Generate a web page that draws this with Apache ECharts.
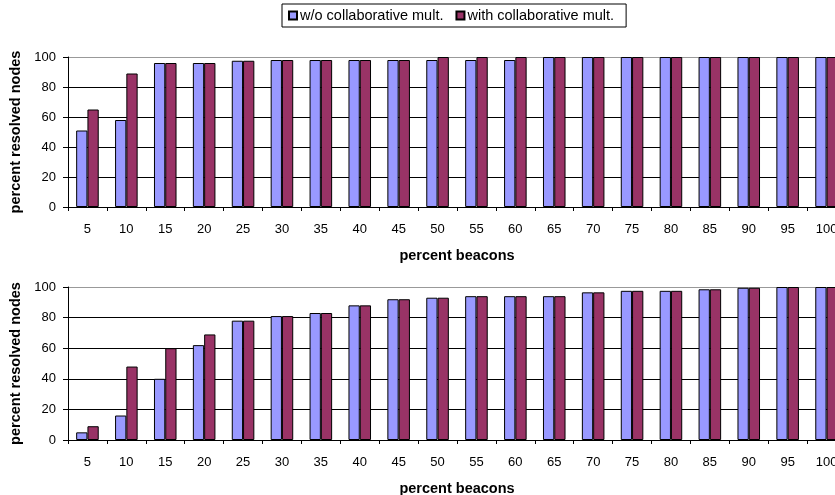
<!DOCTYPE html>
<html>
<head>
<meta charset="utf-8">
<script src="https://cdn.jsdelivr.net/npm/echarts@6/dist/echarts.min.js"></script>
<style>
  html, body { margin: 0; padding: 0; background: #fff; }
  #chart { width: 835px; height: 495px; }
</style>
</head>
<body>
<div id="chart"></div>
<script>
// x categories (percent beacons)
const beacons = ["5", "10", "15", "20", "25", "30", "35", "40", "45", "50",
                 "55", "60", "65", "70", "75", "80", "85", "90", "95", "100"];

// top chart
const topWithout = [51, 58, 96, 96, 97.5, 98, 98, 98, 98, 98, 98, 98, 100, 100, 100, 100, 100, 100, 100, 100];
const topWith    = [65, 89, 96, 96, 97.5, 98, 98, 98, 98, 100, 100, 100, 100, 100, 100, 100, 100, 100, 100, 100];

// bottom chart
const botWithout = [5, 16, 40, 62, 78, 81, 83, 88, 92, 93, 94, 94, 94, 96.5, 97.5, 97.5, 98.5, 99.5, 100, 100];
const botWith    = [9, 48, 60, 69, 78, 81, 83, 88, 92, 93, 94, 94, 94, 96.5, 97.5, 97.5, 98.5, 99.5, 100, 100];

const nameWithout = "w/o collaborative mult.";
const nameWith = "with collaborative mult.";

const font = "Liberation Sans, Arial, sans-serif";

const chart = echarts.init(document.getElementById("chart"));

function xAxisFor(gridIndex) {
  return {
    type: "category",
    gridIndex: gridIndex,
    data: beacons,
    name: "percent beacons",
    nameLocation: "middle",
    nameGap: 41,
    nameTextStyle: { fontFamily: font, fontSize: 14.5, fontWeight: "bold", color: "#000" },
    axisLine: { lineStyle: { color: "#000", width: 1 } },
    axisTick: { show: true, length: 4, lineStyle: { color: "#000" } },
    axisLabel: { fontFamily: font, fontSize: 13, color: "#000", margin: 16, interval: 0 },
    splitLine: { show: false }
  };
}

function yAxisFor(gridIndex) {
  return {
    type: "value",
    gridIndex: gridIndex,
    min: 0,
    max: 100,
    interval: 20,
    name: "percent resolved nodes",
    nameLocation: "middle",
    nameGap: 45,
    nameTextStyle: { fontFamily: font, fontSize: 14.5, fontWeight: "bold", color: "#000" },
    axisLine: { show: true, lineStyle: { color: "#000", width: 1 } },
    axisTick: { show: true, length: 5, lineStyle: { color: "#000" } },
    axisLabel: { fontFamily: font, fontSize: 13, color: "#000", margin: 12 },
    splitLine: {
      show: true,
      lineStyle: { color: ["#000", "#000", "#000", "#000", "#000", "#999"], width: 1 }
    }
  };
}

function barSeries(name, data, idx, color) {
  return {
    name: name,
    type: "bar",
    xAxisIndex: idx,
    yAxisIndex: idx,
    data: data,
    barGap: "0%",
    barCategoryGap: "42%",
    itemStyle: { color: color, borderColor: "#000", borderWidth: 1 },
    emphasis: { disabled: true }
  };
}

const options = {
  animation: false,
  backgroundColor: "#fff",
  legend: {
    data: [nameWithout, nameWith],
    left: 282,
    top: 4,
    orient: "horizontal",
    borderColor: "#000",
    borderWidth: 1,
    padding: [4, 12, 4, 6],
    itemWidth: 8,
    itemHeight: 8,
    itemGap: 12,
    icon: "rect",
    textStyle: { fontFamily: font, fontSize: 14.5, color: "#000", padding: [0, 0, 0, -2] }
  },
  grid: [
    { left: 68, width: 778, top: 57, height: 150, outerBoundsMode: "none", containLabel: false },
    { left: 68, width: 778, top: 287, height: 153, outerBoundsMode: "none", containLabel: false }
  ],
  xAxis: [xAxisFor(0), xAxisFor(1)],
  yAxis: [yAxisFor(0), yAxisFor(1)],
  series: [
    barSeries(nameWithout, topWithout, 0, "#9999ff"),
    barSeries(nameWith, topWith, 0, "#993366"),
    barSeries(nameWithout, botWithout, 1, "#9999ff"),
    barSeries(nameWith, botWith, 1, "#993366")
  ]
};

chart.setOption(options);
</script>
</body>
</html>
